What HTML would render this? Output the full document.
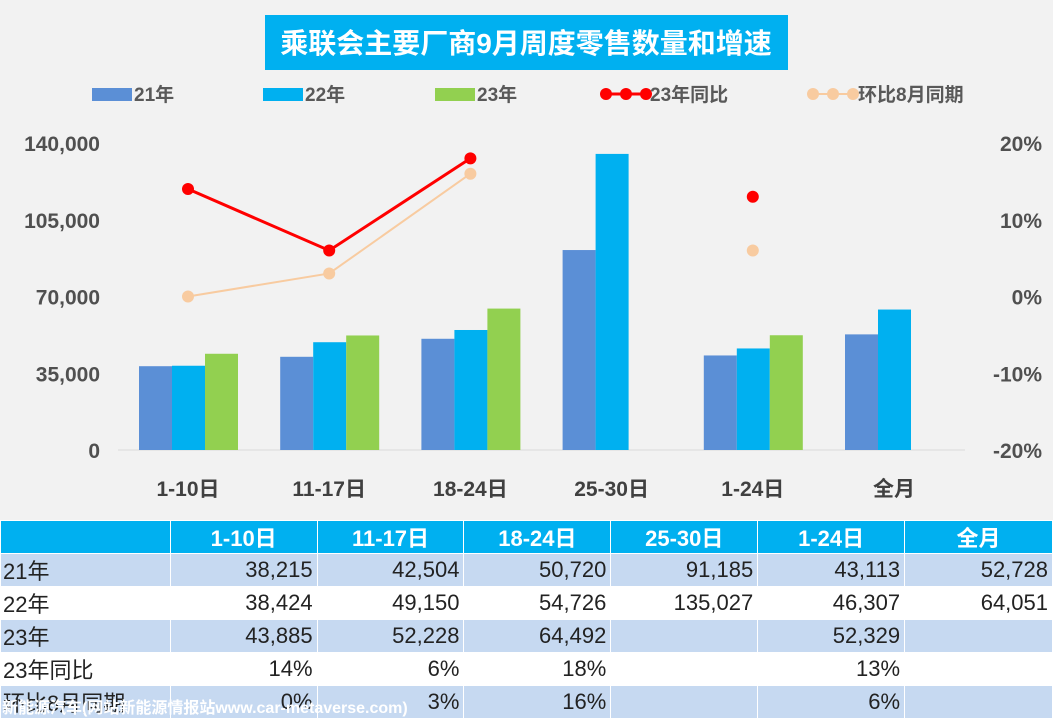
<!DOCTYPE html>
<html><head><meta charset="utf-8"><style>
body{margin:0;width:1053px;height:716px;overflow:hidden;background:#fff;font-family:"Liberation Sans","Noto Sans CJK SC",sans-serif;position:relative}
#chart{position:absolute;left:0;top:0;width:1053px;height:520px;background:#f2f2f2}
table{position:absolute;left:0;top:520px;border-collapse:collapse;font-size:22px;color:#222}
td{height:32px;padding:0 4px;border:1px solid #fff;text-align:right;box-sizing:border-box}
td:first-child{text-align:left;padding-left:2px}
tr.h td{background:#00b0f0;color:#fff;font-weight:bold;text-align:center}
tr.a td{background:#c6d9f1}
#wm{position:absolute;left:2px;top:694px;color:#fff;font-size:16px;font-weight:bold;white-space:nowrap}
</style></head><body>
<div id="chart">
<svg width="1053" height="520" id="svg">
<rect x="265" y="15" width="523" height="55" fill="#00b0f0"/>
<text x="526" y="53" text-anchor="middle" font-size="28" font-weight="bold" fill="#fff">乘联会主要厂商9月周度零售数量和增速</text>
<g font-size="19" font-weight="bold" fill="#595959">
<rect x="92" y="88" width="40" height="13" fill="#5b8fd6"/><text x="134" y="101">21年</text>
<rect x="263" y="88" width="40" height="13" fill="#00b0f0"/><text x="305" y="101">22年</text>
<rect x="435" y="88" width="40" height="13" fill="#92d050"/><text x="477" y="101">23年</text>
<line x1="606" y1="94" x2="646" y2="94" stroke="#ff0000" stroke-width="3"/><circle cx="606" cy="94" r="6" fill="#f00"/><circle cx="626" cy="94" r="6" fill="#f00"/><circle cx="646" cy="94" r="6" fill="#f00"/><text x="650" y="101">23年同比</text>
<line x1="813" y1="94" x2="853" y2="94" stroke="#f8cba0" stroke-width="2"/><circle cx="813" cy="94" r="6" fill="#f8cba0"/><circle cx="833" cy="94" r="6" fill="#f8cba0"/><circle cx="853" cy="94" r="6" fill="#f8cba0"/><text x="858" y="101">环比8月同期</text>
</g>
<g id="plot"></g>
</svg></div>
<table>
<colgroup><col style="width:170px"><col style="width:147px"><col style="width:147px"><col style="width:147px"><col style="width:147px"><col style="width:147px"><col style="width:148px"></colgroup>
<tr class="h" style="height:33px"><td></td><td>1-10日</td><td>11-17日</td><td>18-24日</td><td>25-30日</td><td>1-24日</td><td>全月</td></tr>
<tr class="a"><td>21年</td><td>38,215</td><td>42,504</td><td>50,720</td><td>91,185</td><td>43,113</td><td>52,728</td></tr>
<tr><td>22年</td><td>38,424</td><td>49,150</td><td>54,726</td><td>135,027</td><td>46,307</td><td>64,051</td></tr>
<tr class="a"><td>23年</td><td>43,885</td><td>52,228</td><td>64,492</td><td></td><td>52,329</td><td></td></tr>
<tr><td>23年同比</td><td>14%</td><td>6%</td><td>18%</td><td></td><td>13%</td><td></td></tr>
<tr class="a"><td>环比8月同期</td><td>0%</td><td>3%</td><td>16%</td><td></td><td>6%</td><td></td></tr>
</table>
<div id="wm">新能源汽车(网站新能源情报站www.car-metaverse.com)</div>
<script>
const categories=["1-10日","11-17日","18-24日","25-30日","1-24日","全月"];
const s21=[38215,42504,50720,91185,43113,52728];
const s22=[38424,49150,54726,135027,46307,64051];
const s23=[43885,52228,64492,null,52329,null];
const yoy=[14,6,18,null,13,null];
const mom=[0,3,16,null,6,null];
const leftTicks=[0,35000,70000,105000,140000];
const rightTicks=[-20,-10,0,10,20];
const NS="http://www.w3.org/2000/svg",g=document.getElementById('plot');
const y=v=>450-v/140000*307, yr=p=>450-(p+20)/40*307, cx=i=>188+i*141.2;
function mk(t,a){const e=document.createElementNS(NS,t);for(const k in a)e.setAttribute(k,a[k]);g.appendChild(e);return e;}
leftTicks.forEach(v=>{const e=mk('text',{x:100,y:y(v)+8,'text-anchor':'end','font-size':21,'font-weight':'bold',fill:'#505050'});e.textContent=v.toLocaleString('en-US');

});
rightTicks.forEach(v=>{const e=mk('text',{x:1042,y:yr(v)+8,'text-anchor':'end','font-size':21,'font-weight':'bold',fill:'#505050'});e.textContent=v+'%';

});
mk('line',{x1:118,y1:450,x2:965,y2:450,stroke:'#d9d9d9'});
categories.forEach((c,i)=>{const e=mk('text',{x:cx(i),y:496,'text-anchor':'middle','font-size':21,'font-weight':'bold',fill:'#404040'});e.textContent=c;

});
[[s21,'#5b8fd6',-49],[s22,'#00b0f0',-16],[s23,'#92d050',17]].forEach(([s,col,o])=>s.forEach((v,i)=>{if(v==null)return;const r=mk('rect',{x:cx(i)+o,y:y(v),width:33,height:450-y(v),fill:col});

}));
function line(arr,col,w,rad){let pts=[];arr.forEach((v,i)=>{if(v==null){draw();pts=[];return;}pts.push([cx(i),yr(v)]);});draw();
function draw(){if(pts.length>1){const p=mk('polyline',{points:pts.map(q=>q.join(',')).join(' '),fill:'none',stroke:col,'stroke-width':w});

}
pts.forEach(q=>{const c=mk('circle',{cx:q[0],cy:q[1],r:rad,fill:col});

});}}
line(mom,'#f8cba0',2,6);
line(yoy,'#ff0000',3,6);
</script>
</body></html>
